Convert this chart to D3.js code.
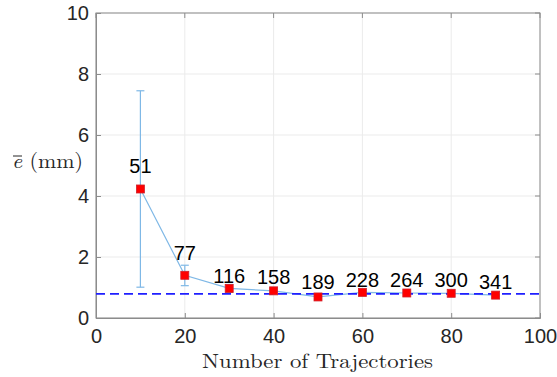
<!DOCTYPE html>
<html><head><meta charset="utf-8">
<script src="https://cdn.jsdelivr.net/npm/d3@7"></script>
<style>body{margin:0;background:#fff;} svg{display:block;}</style>
</head><body>
<svg id="c" width="557" height="377"></svg>
<script>
const xs = [10, 20, 30, 40, 50, 60, 70, 80, 90];
const means = [4.23, 1.40, 0.97, 0.89, 0.69, 0.84, 0.82, 0.81, 0.75];
const errLow = [1.01, 1.06, 0.84, 0.81, 0.64, 0.79, 0.78, 0.77, 0.72];
const errHigh = [7.45, 1.73, 1.10, 0.98, 0.74, 0.89, 0.86, 0.85, 0.78];
const counts = ["51", "77", "116", "158", "189", "228", "264", "300", "341"];
const labelY = [4.98, 2.14, 1.40, 1.34, 1.18, 1.26, 1.26, 1.26, 1.18];
const refLine = 0.79;
const xTicks = [0, 20, 40, 60, 80, 100];
const yTicks = [0, 2, 4, 6, 8, 10];

const svg = d3.select("#c");
const L = 96, R = 540, T = 13, B = 318;
const x = d3.scaleLinear().domain([0, 100]).range([L, R]);
const y = d3.scaleLinear().domain([0, 10]).range([B, T]);

// grid
svg.append("g").selectAll("line.gx").data(xTicks).join("line")
  .attr("x1", d => x(d)).attr("x2", d => x(d)).attr("y1", T).attr("y2", B)
  .attr("stroke", "#ebebeb").attr("stroke-width", 1);
svg.append("g").selectAll("line.gy").data(yTicks).join("line")
  .attr("x1", L).attr("x2", R).attr("y1", d => y(d)).attr("y2", d => y(d))
  .attr("stroke", "#ebebeb").attr("stroke-width", 1);

// box
svg.append("rect").attr("x", L).attr("y", T).attr("width", R - L).attr("height", B - T)
  .attr("fill", "none").attr("stroke", "#8c8c8c").attr("stroke-width", 1);

// axes
const fontSans = "'Liberation Sans', Arial, sans-serif";
const gx = svg.append("g").attr("transform", `translate(0,${B})`)
  .call(d3.axisBottom(x).tickValues(xTicks).tickSize(-5).tickPadding(11));
const gy = svg.append("g").attr("transform", `translate(${L},0)`)
  .call(d3.axisLeft(y).tickValues(yTicks).tickSize(-5).tickPadding(7));
[gx, gy].forEach(g => {
  g.select(".domain").attr("stroke", "#8c8c8c");
  g.selectAll(".tick line").attr("stroke", "#8c8c8c");
  g.selectAll(".tick text").attr("fill", "#262626").style("font-family", fontSans).style("font-size", "20px");
});
// top & right ticks
svg.append("g").selectAll("line").data(xTicks).join("line")
  .attr("x1", d => x(d)).attr("x2", d => x(d)).attr("y1", T).attr("y2", T + 5).attr("stroke", "#8c8c8c");
svg.append("g").selectAll("line").data(yTicks).join("line")
  .attr("x1", R).attr("x2", R - 5).attr("y1", d => y(d)).attr("y2", d => y(d)).attr("stroke", "#8c8c8c");

const blue = "#7fb8e6";
// error bars
const eb = svg.append("g").attr("stroke", blue).attr("stroke-width", 1.2);
xs.forEach((d, i) => {
  eb.append("line").attr("x1", x(d)).attr("x2", x(d)).attr("y1", y(errLow[i])).attr("y2", y(errHigh[i]));
  eb.append("line").attr("x1", x(d) - 4).attr("x2", x(d) + 4).attr("y1", y(errLow[i])).attr("y2", y(errLow[i]));
  eb.append("line").attr("x1", x(d) - 4).attr("x2", x(d) + 4).attr("y1", y(errHigh[i])).attr("y2", y(errHigh[i]));
});
// connecting line
svg.append("path").datum(xs.map((d, i) => [d, means[i]]))
  .attr("d", d3.line().x(d => x(d[0])).y(d => y(d[1])))
  .attr("fill", "none").attr("stroke", blue).attr("stroke-width", 1.2);

// reference dashed line
svg.append("line").attr("x1", L).attr("x2", R).attr("y1", y(refLine)).attr("y2", y(refLine))
  .attr("stroke", "#1f1fff").attr("stroke-width", 1.8).attr("stroke-dasharray", "9,5");

// markers
svg.append("g").selectAll("rect").data(xs).join("rect")
  .attr("x", d => x(d) - 4).attr("y", (d, i) => y(means[i]) - 4)
  .attr("width", 8).attr("height", 8)
  .attr("fill", "#ff0000").attr("stroke", "#d0202a").attr("stroke-width", 0.8);

// count labels
svg.append("g").selectAll("text").data(xs).join("text")
  .attr("x", d => x(d)).attr("y", (d, i) => y(labelY[i]))
  .attr("dy", "0.36em").attr("text-anchor", "middle")
  .style("font-family", fontSans).style("font-size", "20px").attr("fill", "#000")
  .text((d, i) => counts[i]);

// axis titles
const serif = "'Latin Modern Roman','CMU Serif','DejaVu Serif',serif";
svg.append("text").attr("x", (L + R) / 2 - 0.5).attr("y", 368).attr("text-anchor", "middle")
  .style("font-family", serif).style("font-size", "20px")
  .attr("fill", "#262626").attr("textLength", 231).attr("lengthAdjust", "spacingAndGlyphs")
  .text("Number of Trajectories");

const yl = svg.append("text").attr("x", 12).attr("y", 168)
  .style("font-family", serif).style("font-size", "21px")
  .attr("fill", "#262626").attr("textLength", 71).attr("lengthAdjust", "spacingAndGlyphs");
yl.append("tspan").style("font-style", "italic").text("e");
yl.append("tspan").text(" (mm)");
// bar over e
svg.append("line").attr("x1", 13).attr("x2", 22).attr("y1", 156).attr("y2", 156)
  .attr("stroke", "#262626").attr("stroke-width", 1);
</script>
</body></html>
